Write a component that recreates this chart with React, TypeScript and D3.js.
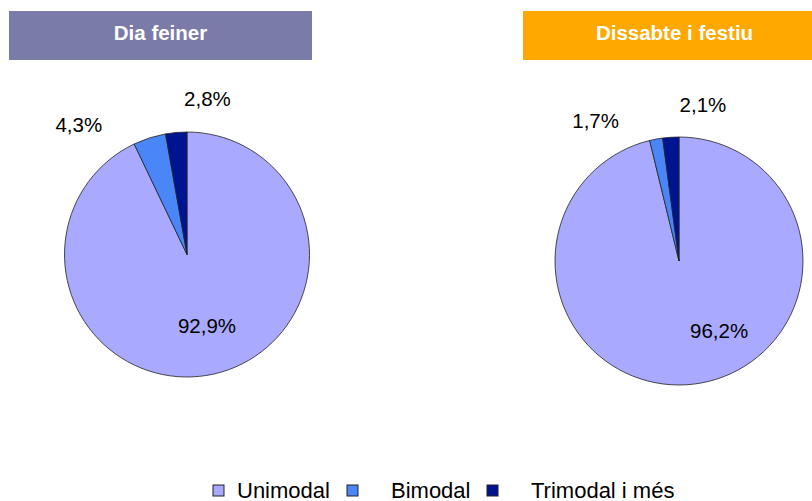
import React from "react";
import * as d3 from "d3";

const categories = ["Unimodal", "Bimodal", "Trimodal i més"];
const panelTitles = ["Dia feiner", "Dissabte i festiu"];
const weekdayValues = [92.9, 4.3, 2.8];
const weekendValues = [96.2, 1.7, 2.1];
const seriesValues = [weekdayValues, weekendValues];

const sliceColors = ["#A9A9FF", "#4A86F8", "#001492"];
const titleColors = ["#7B7BA9", "#FFA800"];
const FONT = "'Liberation Sans', Arial, sans-serif";

const W = 812;
const H = 501;

// layout of each panel
const panels = [
  { cx: 187, cy: 254.5, r: 122.5, boxX: 9, boxW: 303,
    labelFactor: [0.6, 1.38, 1.285], labelShift: [-3, -22, 12.5] },
  { cx: 679, cy: 261, r: 124, boxX: 523, boxW: 303,
    labelFactor: [0.65, 1.32, 1.275], labelShift: [-23, -20, 12.5] },
];

const legendItems = [
  { sq: 213, tx: 237 },
  { sq: 347, tx: 391 },
  { sq: 487, tx: 531 },
];

const fmt = (v: number) => v.toFixed(1).replace(".", ",") + "%";

function Pie({ values, p, title, titleColor }: any) {
  const pie = d3.pie<number>().sort(null).value((d) => d);
  const arcs = pie(values);
  const arc = d3.arc<d3.PieArcDatum<number>>().innerRadius(0).outerRadius(p.r);
  return (
    <g>
      <rect x={p.boxX} y={11} width={p.boxW} height={49} fill={titleColor} />
      <text
        x={p.boxX + p.boxW / 2}
        y={39.5}
        textAnchor="middle"
        fill="#fff"
        fontFamily={FONT}
        fontWeight="bold"
        fontSize={20.5}
      >
        {title}
      </text>
      <g transform={`translate(${p.cx},${p.cy})`}>
        {arcs.map((a, i) => (
          <path key={i} d={arc(a) || ""} fill={sliceColors[i]} stroke="#222" strokeWidth={0.8} />
        ))}
        {arcs.map((a, i) => {
          const mid = (a.startAngle + a.endAngle) / 2 + (p.labelShift[i] * Math.PI) / 180;
          const rr = p.r * p.labelFactor[i];
          const la = d3.arc<any>().innerRadius(rr).outerRadius(rr);
          const [x, y] = la.centroid({ startAngle: mid, endAngle: mid } as any);
          return (
            <text
              key={"l" + i}
              x={x}
              y={y}
              dy="0.36em"
              textAnchor="middle"
              fontFamily={FONT}
              fontSize={20.5}
              fill="#000"
            >
              {fmt(values[i])}
            </text>
          );
        })}
      </g>
    </g>
  );
}

export default function App() {
  return (
    <svg
      width={W}
      height={H}
      style={{ position: "absolute", left: 0, top: 0, background: "#fff" }}
    >
      {panels.map((p, i) => (
        <Pie key={i} values={seriesValues[i]} p={p} title={panelTitles[i]} titleColor={titleColors[i]} />
      ))}
      <g>
        {categories.map((c, i) => (
          <g key={c}>
            <rect
              x={legendItems[i].sq}
              y={485}
              width={11}
              height={11}
              fill={sliceColors[i]}
              stroke="#222"
              strokeWidth={1}
            />
            <text x={legendItems[i].tx} y={497.5} fontFamily={FONT} fontSize={22} fill="#000">
              {c}
            </text>
          </g>
        ))}
      </g>
    </svg>
  );
}
